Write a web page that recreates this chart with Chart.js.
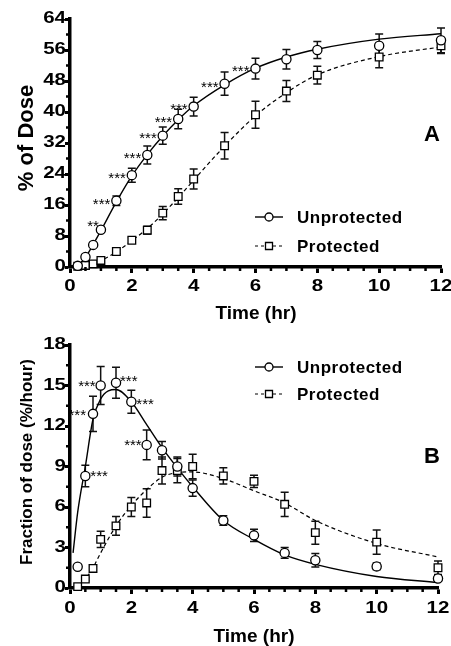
<!DOCTYPE html>
<html>
<head>
<meta charset="utf-8">
<script src="https://cdn.jsdelivr.net/npm/chart.js@4.4.1/dist/chart.umd.min.js"></script>
<style>
html,body{margin:0;padding:0;background:#fff;}
.panel{position:absolute;left:0;width:451px;}
</style>
</head>
<body>
<div class="panel" style="top:0;height:325px"><canvas id="chartA"></canvas></div>
<div class="panel" style="top:325px;height:321px"><canvas id="chartB"></canvas></div>
<script>
/* DATA */

const times = [0.25,0.5,0.75,1,1.5,2,2.5,3,3.5,4,5,6,7,8,10,12];

// panel A: cumulative % of dose
const unprotA    = [0.3,2.6,5.7,9.6,17.1,23.7,28.9,33.9,38.2,41.4,47.3,51.2,53.6,56.0,57.1,58.5];
const unprotAErr = [0.3,0.4,0.5,0.6,1.2,1.8,2.3,2.2,2.5,2.4,3.0,2.7,2.5,2.2,3.0,3.2];
const protA      = [0.2,0.4,0.8,1.7,4.0,6.9,9.5,13.9,18.2,22.7,31.3,39.3,45.4,49.5,54.2,57.1];
const protAErr   = [0.1,0.2,0.3,0.4,0.6,0.7,1.0,1.7,2.0,2.6,3.4,3.5,2.7,2.3,2.8,2.0];

const fitTimesA  = [0.25,0.5,0.75,1,1.5,2,2.5,3,3.5,4,5,6,7,8,10,12];
const unprotAFit = [0.2,2.5,5.8,9.4,16.8,23.5,29.0,33.8,38.0,41.6,47.0,51.3,54.2,56.2,58.8,60.2];
const protAFit   = [0.1,0.4,0.9,1.7,3.9,6.8,9.9,13.7,17.9,22.4,31.2,39.0,45.0,49.6,54.3,56.8];

const starsA = ["","","","**","***","***","***","***","***","***","***","***","","","",""];

// panel B: fraction of dose (%/hour)
const unprotB    = [1.57,8.3,12.9,15.0,15.2,13.8,10.6,10.2,9.0,7.4,5.0,3.9,2.6,2.05,1.6,0.7];
const unprotBErr = [0.1,0.8,1.3,1.4,1.15,0.85,1.1,0.65,0.7,0.6,0.35,0.45,0.4,0.5,0.25,0.2];
const protB      = [0.1,0.66,1.45,3.6,4.6,6.0,6.3,8.7,8.7,9.0,8.3,7.9,6.2,4.1,3.4,1.5];
const protBErr   = [0.05,0.1,0.15,0.6,0.7,0.7,1.05,1.0,0.9,0.9,0.6,0.45,0.9,0.85,0.9,0.5];

const fitTimesBU = [0.1,0.25,0.5,0.75,1,1.25,1.5,2,2.5,3,3.5,4,5,6,7,8,10,12];
const unprotBFit = [2.6,5.6,9.0,12.5,14.0,14.6,14.7,13.8,12.1,10.4,8.9,7.5,5.0,3.6,2.45,1.75,0.85,0.4];
const fitTimesBP = [0.25,0.5,0.75,1,1.5,2,2.5,3,3.5,4,5,6,7,8,10,12];
const protBFit   = [0.05,0.65,1.5,2.6,4.6,6.1,7.3,8.2,8.55,8.6,8.1,7.2,6.3,5.0,3.3,2.3];

const starsB = ["","***","***","***","***","***","***","","","","","","","","",""];

/* STYLE */

const FONT = "'Liberation Sans', Arial, sans-serif";
const pts = (xs,ys)=>xs.map((x,i)=>({x:x,y:ys[i]}));

// where each star label sits relative to its circle: [side, dx, dy]
const starPlaceA = {3:["L",-2,-8]};
const starPlaceB = {1:["R",5,-4],2:["L",-7,-3],3:["L",-5,-3],4:["R",4,-6],5:["R",5,-2],6:["L",-5,-4]};

function pointSet(label,ys,errs,style){
return {
label:label,
data:pts(times,ys),
err:errs,
showLine:false,
pointStyle:style,
pointRadius:style==="rect"?5.4:4.6,
pointBackgroundColor:"#fff",
pointBorderColor:"#000",
pointBorderWidth:1.3,
clip:false,
order:1
};
}

function fitSet(xs,ys,dashed){
return {
data:pts(xs,ys),
showLine:true,
pointRadius:0,
borderColor:"#000",
borderWidth:dashed?1.2:1.4,
borderDash:dashed?[4,3]:[],
cubicInterpolationMode:"monotone",
clip:false,
order:2
};
}

/* PLUGIN: error bars, tick labels, minor ticks, stars, titles, legend */

const decor = {
id:"decor",
beforeDatasetsDraw(chart){
const ctx=chart.ctx, ys=chart.scales.y;
ctx.save();
ctx.strokeStyle="#111";
ctx.lineWidth=1.5;
chart.data.datasets.forEach((ds,di)=>{
if(!ds.err) return;
const meta=chart.getDatasetMeta(di);
meta.data.forEach((p,i)=>{
const v=ds.data[i].y, e=ds.err[i];
const t=ys.getPixelForValue(v+e), b=ys.getPixelForValue(Math.max(v-e,0));
ctx.beginPath();
ctx.moveTo(p.x,t); ctx.lineTo(p.x,b);
ctx.moveTo(p.x-4,t); ctx.lineTo(p.x+4,t);
ctx.moveTo(p.x-4,b); ctx.lineTo(p.x+4,b);
ctx.stroke();
});
});
ctx.restore();
},
afterDraw(chart,args,o){
const ctx=chart.ctx, a=chart.chartArea, xs=chart.scales.x, ys=chart.scales.y;
ctx.save();

// tick labels (the original face is drawn wide)
ctx.fillStyle="#000";
ctx.font="bold 16px "+FONT;
ctx.textBaseline="middle";
xs.ticks.forEach(t=>{
ctx.save();
ctx.translate(xs.getPixelForValue(t.value),a.bottom+o.xLabelDy);
ctx.scale(1.28,1);
ctx.textAlign="center";
ctx.fillText(String(t.value),0,0);
ctx.restore();
});
ys.ticks.forEach(t=>{
ctx.save();
ctx.translate(a.left-4,ys.getPixelForValue(t.value));
ctx.scale(1.28,1);
ctx.textAlign="right";
ctx.fillText(String(t.value),0,0);
ctx.restore();
});
ctx.textBaseline="alphabetic";

// minor ticks
ctx.strokeStyle="#000";
ctx.lineWidth=2.5;
ctx.beginPath();
for(let v=0.5; v<12; v+=0.5){
if(v%2===0) continue;
const px=xs.getPixelForValue(v);
ctx.moveTo(px,a.bottom); ctx.lineTo(px,a.bottom+4);
}
for(let v=o.yMinor; v<o.yMax; v+=o.yMinor){
if(Math.abs(v/o.yMajor-Math.round(v/o.yMajor))<1e-6) continue;
const py=ys.getPixelForValue(v);
ctx.moveTo(a.left,py); ctx.lineTo(a.left-4,py);
}
ctx.stroke();

// significance stars
const meta=chart.getDatasetMeta(0);
ctx.font="15px "+FONT;
o.stars.forEach((s,i)=>{
if(!s) return;
const p=meta.data[i];
const pl=o.starPlace[i]||["L",-6,-1];
ctx.textAlign=pl[0]==="L"?"right":"left";
ctx.fillText(s,p.x+pl[1],p.y+pl[2]+8.8);
});

// axis titles
ctx.font="bold 19px "+FONT;
ctx.textAlign="center";
ctx.textBaseline="middle";
ctx.fillText("Time (hr)",o.xTitle[0],o.xTitle[1]);
ctx.save();
ctx.translate(o.yTitle[0],o.yTitle[1]);
ctx.rotate(-Math.PI/2);
ctx.font="bold "+o.yTitle[2]+"px "+FONT;
ctx.fillText(o.yTitle[3],0,0);
ctx.restore();

// panel letter
ctx.font="bold 22px "+FONT;
ctx.fillText(o.letter,o.letterPos[0],o.letterPos[1]);

// legend
const lx0=255, lx1=283, lm=269;
o.legendY.forEach((ly,k)=>{
ctx.beginPath();
ctx.lineWidth=k===0?1.4:1.2;
ctx.setLineDash(k===0?[]:[3,3]);
ctx.moveTo(lx0,ly); ctx.lineTo(lx1,ly);
ctx.stroke();
ctx.setLineDash([]);
ctx.lineWidth=1.3;
ctx.fillStyle="#fff";
ctx.beginPath();
if(k===0) ctx.arc(lm,ly,4,0,Math.PI*2);
else ctx.rect(lm-3.5,ly-3.5,7,7);
ctx.fill(); ctx.stroke();
ctx.fillStyle="#000";
ctx.font="bold 17px "+FONT;
ctx.letterSpacing="0.5px";
ctx.textAlign="left";
ctx.fillText(k===0?"Unprotected":"Protected",297,ly+1);
ctx.letterSpacing="0px";
});

ctx.restore();
}
};

function axes(yMax,yStep,xHeight){
return {
x:{
type:"linear",min:0,max:12,
ticks:{stepSize:2,display:false,autoSkip:false},
grid:{drawOnChartArea:false,tickLength:6,tickWidth:3,tickColor:"#000"},
border:{color:"#000",width:3.5},
afterFit:s=>{s.height=xHeight;}
},
y:{
type:"linear",min:0,max:yMax,
ticks:{stepSize:yStep,display:false,autoSkip:false},
grid:{drawOnChartArea:false,tickLength:5,tickWidth:3,tickColor:"#000"},
border:{color:"#000",width:3.5},
afterFit:s=>{s.width=70;}
}
};
}

/* PANEL A */

new Chart(document.getElementById("chartA"),{
type:"scatter",
data:{datasets:[
pointSet("Unprotected",unprotA,unprotAErr,"circle"),
pointSet("Protected",protA,protAErr,"rect"),
fitSet(fitTimesA,unprotAFit,false),
fitSet(fitTimesA,protAFit,true)
]},
options:{
responsive:true,maintainAspectRatio:false,animation:false,devicePixelRatio:1,
layout:{padding:{top:19,right:10,left:0,bottom:0}},
plugins:{
legend:{display:false},tooltip:{enabled:false},
decor:{
yMax:64,yMajor:8,yMinor:4,xLabelDy:20,
stars:starsA,starPlace:starPlaceA,
xTitle:[256,314],yTitle:[27,138,22,"% of Dose"],
letter:"A",letterPos:[432,135],
legendY:[217,246]
}
},
scales:axes(64,8,58)
},
plugins:[decor]
});

/* PANEL B */

new Chart(document.getElementById("chartB"),{
type:"scatter",
data:{datasets:[
pointSet("Unprotected",unprotB,unprotBErr,"circle"),
pointSet("Protected",protB,protBErr,"rect"),
fitSet(fitTimesBU,unprotBFit,false),
fitSet(fitTimesBP,protBFit,true)
]},
options:{
responsive:true,maintainAspectRatio:false,animation:false,devicePixelRatio:1,
layout:{padding:{top:20,right:13,left:0,bottom:0}},
plugins:{
legend:{display:false},tooltip:{enabled:false},
decor:{
yMax:18,yMajor:3,yMinor:1.5,xLabelDy:21,
stars:starsB,starPlace:starPlaceB,
xTitle:[254,312],yTitle:[27,137,17,"Fraction of dose (%/hour)"],
letter:"B",letterPos:[432,132],
legendY:[42,69]
}
},
scales:axes(18,3,58)
},
plugins:[decor]
});
</script>
</body>
</html>
